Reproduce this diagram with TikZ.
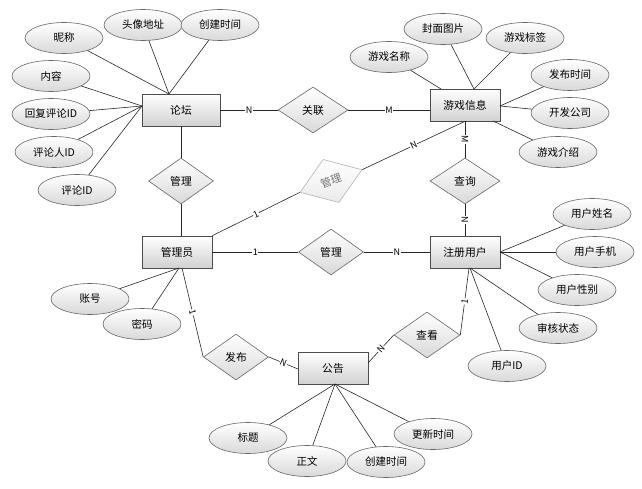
\documentclass[tikz,border=0pt]{standalone}
\usepackage{fontspec}
\setmainfont{Noto Sans CJK SC}
\usepackage{tikz}
\usetikzlibrary{shapes.geometric}

\begin{document}
\begin{tikzpicture}[x=1pt, y=-1pt, line width=.6pt, draw=black!85,
        entity/.style={draw=black!70, rectangle, minimum width=70pt, minimum height=32pt, inner sep=0pt, top color=white, bottom color=black!18, font=\fontsize{10.8}{12}\selectfont},
        rel/.style={draw=black!60, diamond, minimum width=66pt, minimum height=46pt, inner sep=0pt, top color=white, bottom color=black!15, font=\fontsize{10.8}{12}\selectfont},
        attr/.style={draw=black!60, ellipse, minimum width=78pt, minimum height=31pt, inner sep=0pt, top color=white, bottom color=black!15, font=\fontsize{10.5}{12}\selectfont},
        card/.style={fill=white, inner sep=.6pt, sloped, font=\fontsize{9}{10}\selectfont}]
            \useasboundingbox (0, 0) rectangle (642, 489);
            % entities
            \node[entity, minimum width=78pt](lt) at (181, 110){论坛};
            \node[entity](gx) at (465, 105){游戏信息};
            \node[entity](gy) at (177, 252){管理员};
            \node[entity](zc) at (465, 252){注册用户};
            \node[entity](gg) at (333, 368){公告};
            % relations
            \node[rel, minimum width=70pt](gl) at (313, 110){关联};
            \node[rel, minimum width=65pt](glt) at (181, 181){管理};
            \node[rel, draw=black!30, bottom color=black!8, text=black!55, minimum width=66pt, rotate=20](glx) at (331, 181){管理};
            \node[rel, minimum width=70pt](cx) at (465, 181){查询};
            \node[rel, minimum width=65pt](gly) at (331, 252){管理};
            \node[rel, minimum width=65pt](fb) at (236, 357){发布};
            \node[rel](ck) at (427, 335){查看};
            % attributes of 论坛
            \node[attr](nc) at (64, 38){昵称};
            \node[attr](tx) at (143, 25){头像地址};
            \node[attr](cj) at (220, 25){创建时间};
            \node[attr](nr) at (51, 76){内容};
            \node[attr](hf) at (51, 114){回复评论ID};
            \node[attr](plr) at (54, 152){评论人ID};
            \node[attr](pl) at (77, 190){评论ID};
            \coordinate (ltT) at (169, 94);
            \coordinate (ltL) at (142, 106);
            \draw (nc) -- (ltT);
            \draw (tx) -- (ltT);
            \draw (cj) -- (ltT);
            \draw (nr) -- (ltL);
            \draw (hf) -- (ltL);
            \draw (plr) -- (ltL);
            \draw (pl) -- (ltL);
            % attributes of 游戏信息
            \node[attr](mc) at (389, 57){游戏名称};
            \node[attr](fm) at (443, 29){封面图片};
            \node[attr](bq) at (525, 38){游戏标签};
            \node[attr](fs) at (570, 75){发布时间};
            \node[attr](kf) at (570, 113){开发公司};
            \node[attr](js) at (558, 152){游戏介绍};
            \coordinate (gxT) at (441, 89);
            \coordinate (gxU) at (474, 89);
            \coordinate (gxR) at (500, 106);
            \coordinate (gxB) at (493, 121);
            \draw (mc) -- (gxT);
            \draw (fm) -- (gxU);
            \draw (bq) -- (gxU);
            \draw (fs) -- (gxR);
            \draw (kf) -- (gxR);
            \draw (js) -- (gxB);
            % attributes of 注册用户
            \node[attr](xm) at (592, 214){用户姓名};
            \node[attr](sj) at (595, 252){用户手机};
            \node[attr](xb) at (577, 290){用户性别};
            \node[attr](sh) at (558, 328){审核状态};
            \node[attr](yh) at (507, 366){用户ID};
            \coordinate (zcR) at (500, 252);
            \coordinate (zcB) at (470, 268);
            \draw (xm) -- (zcR);
            \draw (sj) -- (zcR);
            \draw (xb) -- (zcR);
            \draw (sh) -- (zcB);
            \draw (yh) -- (zcB);
            % attributes of 管理员
            \node[attr](zh) at (90, 299){账号};
            \node[attr](mm) at (142, 324){密码};
            \coordinate (gyB) at (179, 268);
            \draw (zh) -- (gyB);
            \draw (mm) -- (gyB);
            % attributes of 公告
            \node[attr](bt) at (248, 438){标题};
            \node[attr](zw) at (307, 461){正文};
            \node[attr](cjs) at (386, 462){创建时间};
            \node[attr](gxs) at (433, 434){更新时间};
            \coordinate (ggB) at (335, 384);
            \draw (bt) -- (ggB);
            \draw (zw) -- (ggB);
            \draw (cjs) -- (ggB);
            \draw (gxs) -- (ggB);
            % relationships
            \draw (lt) -- node[card]{N} (gl);
            \draw (gl.east) -- node[card]{M} (gx.west |- gl.east);
            \draw (lt) -- (glt);
            \draw (glt.south) -- (glt.south |- gy.north);
            \draw (gy.north east) -- node[card]{1} (glx.west);
            \draw (glx.east) -- node[card]{N} (gx.south);
            \draw (gx) -- node[card]{M} (cx);
            \draw (cx) -- node[card]{N} (zc);
            \draw (gy) -- node[card]{1} (gly);
            \draw (gly) -- node[card]{N} (zc);
            \coordinate (gyF) at (182, 268);
            \coordinate (ggL) at (298, 369);
            \coordinate (ggR) at (368, 363);
            \coordinate (zcC) at (469, 268);
            \draw (gyF) -- node[card]{1} (fb.west);
            \draw (fb.east) -- node[card]{N} (ggL);
            \draw (ggR) -- node[card]{N} (ck.west);
            \draw (ck.east) -- node[card]{1} (zcC);
        \end{tikzpicture}
\end{document}
